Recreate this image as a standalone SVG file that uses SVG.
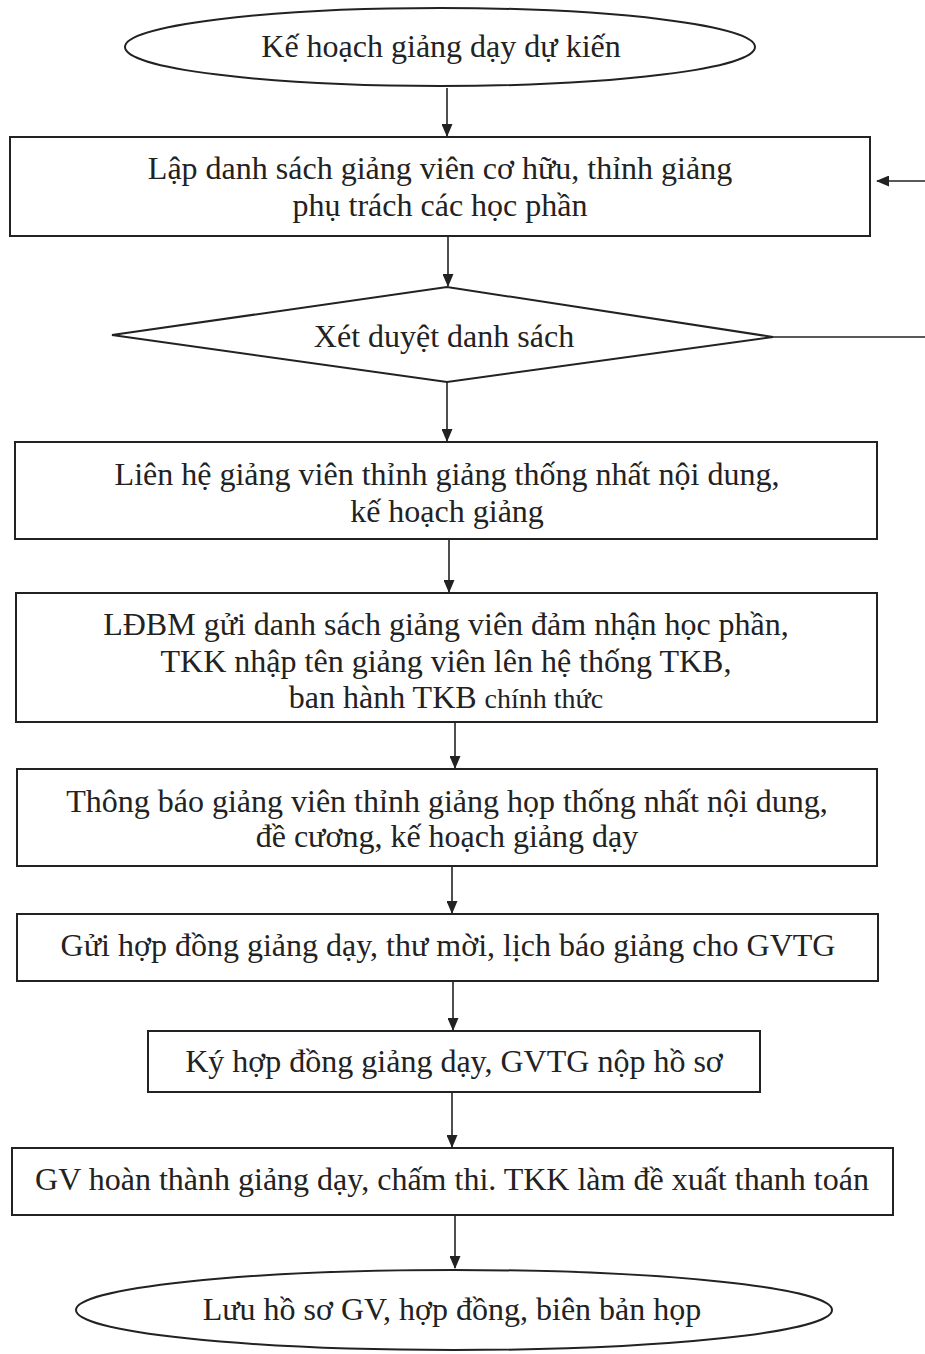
<svg xmlns="http://www.w3.org/2000/svg" width="925" height="1354" viewBox="0 0 925 1354">
<defs>
<marker id="ah" markerWidth="13" markerHeight="11" refX="12" refY="5.5" orient="auto" markerUnits="userSpaceOnUse">
<path d="M0,0 L13,5.5 L0,11 Z" fill="#222"/>
</marker>
<style>
.n{fill:#fff;stroke:#222;stroke-width:2}
.t{font-family:"Liberation Serif","Times New Roman",serif;font-size:32px;fill:#222;text-anchor:middle}
.s{font-size:28px}
.c{fill:none;stroke:#222;stroke-width:1.6;marker-end:url(#ah)}
.l{fill:none;stroke:#222;stroke-width:1.6}
</style>
</defs>
<rect width="925" height="1354" fill="#fff"/>
<g id="connectors">
<path class="c" d="M447,88 V136"/>
<path class="c" d="M448,236 V286"/>
<path class="c" d="M447,382 V441"/>
<path class="c" d="M449,539 V592"/>
<path class="c" d="M455,722 V768"/>
<path class="c" d="M452,866 V913"/>
<path class="c" d="M453,981 V1030"/>
<path class="c" d="M452,1092 V1147"/>
<path class="c" d="M455,1215 V1268"/>
<path class="l" d="M773,337 H935"/>
<path class="c" d="M935,181 H877"/>
</g>
<g id="n1">
<ellipse class="n" cx="440" cy="47" rx="315" ry="39"/>
<text class="t" x="441" y="57">Kế hoạch giảng dạy dự kiến</text>
</g>
<g id="n2">
<rect class="n" x="10" y="137" width="860" height="99"/>
<text class="t" x="440" y="179">Lập danh sách giảng viên cơ hữu, thỉnh giảng</text>
<text class="t" x="440" y="216">phụ trách các học phần</text>
</g>
<g id="n3">
<polygon class="n" points="112,335 447,287 773,337 447,382"/>
<text class="t" x="444" y="347">Xét duyệt danh sách</text>
</g>
<g id="n4">
<rect class="n" x="15" y="442" width="862" height="97"/>
<text class="t" x="447" y="485">Liên hệ giảng viên thỉnh giảng thống nhất nội dung,</text>
<text class="t" x="447" y="522">kế hoạch giảng</text>
</g>
<g id="n5">
<rect class="n" x="16" y="593" width="861" height="129"/>
<text class="t" x="446" y="635">LĐBM gửi danh sách giảng viên đảm nhận học phần,</text>
<text class="t" x="446" y="672">TKK nhập tên giảng viên lên hệ thống TKB,</text>
<text class="t" x="446" y="708">ban hành TKB <tspan class="s">chính thức</tspan></text>
</g>
<g id="n6">
<rect class="n" x="17" y="769" width="860" height="97"/>
<text class="t" x="447" y="812">Thông báo giảng viên thỉnh giảng họp thống nhất nội dung,</text>
<text class="t" x="447" y="847">đề cương, kế hoạch giảng dạy</text>
</g>
<g id="n7">
<rect class="n" x="17" y="914" width="861" height="67"/>
<text class="t" x="448" y="956">Gửi hợp đồng giảng dạy, thư mời, lịch báo giảng cho GVTG</text>
</g>
<g id="n8">
<rect class="n" x="148" y="1031" width="612" height="61"/>
<text class="t" x="454" y="1072">Ký hợp đồng giảng dạy, GVTG nộp hồ sơ</text>
</g>
<g id="n9">
<rect class="n" x="12" y="1148" width="881" height="67"/>
<text class="t" x="452" y="1190">GV hoàn thành giảng dạy, chấm thi. TKK làm đề xuất thanh toán</text>
</g>
<g id="n10">
<ellipse class="n" cx="454" cy="1310" rx="378" ry="40"/>
<text class="t" x="452" y="1320">Lưu hồ sơ GV, hợp đồng, biên bản họp</text>
</g>
</svg>
